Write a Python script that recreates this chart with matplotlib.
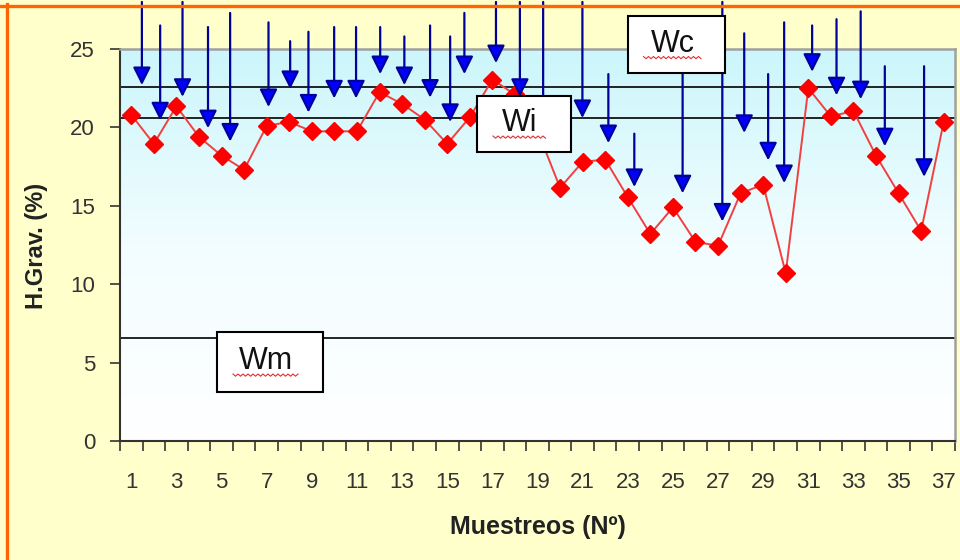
import numpy as np
import matplotlib.pyplot as plt
from matplotlib.colors import LinearSegmentedColormap
from matplotlib.patches import Rectangle
from matplotlib.lines import Line2D

# Datos: humedad gravimétrica por muestreo
muestreos = np.arange(1, 38)
humedad = [20.8, 18.95, 21.35, 19.4, 18.2, 17.3, 20.1, 20.35, 19.75, 19.75,
           19.75, 22.25, 21.5, 20.5, 18.95, 20.65, 23.05, 22.1, 19.8, 16.15,
           17.8, 17.95, 15.55, 13.2, 14.9, 12.7, 12.45, 15.8, 16.35, 10.7,
           22.5, 20.7, 21.05, 18.2, 15.8, 13.4, 20.35]

# Umbrales
wc = 22.6
wi = 20.6
wm = 6.6

# Flechas (posición x, inicio y fin en % de humedad)
flecha_x = [1.47, 2.28, 3.27, 4.40, 5.38, 7.08, 8.04, 8.85, 9.99, 10.96,
            12.03, 13.10, 14.24, 15.13, 15.76, 17.16, 18.22, 19.25, 20.99, 22.14,
            23.29, 25.43, 27.19, 28.16, 29.22, 29.93, 31.17, 32.25, 33.32, 34.39,
            36.13]
flecha_ini = [28.0, 26.5, 28.0, 26.4, 27.3, 26.7, 25.5, 26.1, 26.4, 26.4,
              26.4, 25.8, 26.5, 25.8, 27.3, 28.0, 28.0, 28.0, 28.0, 23.4,
              19.6, 25.3, 28.0, 26.0, 23.4, 26.7, 26.5, 26.9, 27.4, 23.9,
              23.9]
flecha_fin = [22.7, 20.45, 21.95, 19.95, 19.1, 21.3, 22.45, 20.95, 21.85, 21.85,
              23.4, 22.7, 21.9, 20.35, 23.4, 24.1, 21.95, 19.8, 20.6, 19.0,
              16.2, 15.8, 14.0, 19.65, 17.9, 16.45, 23.55, 22.05, 21.8, 18.8,
              16.85]

fondo = '#FFFFCC'
fig = plt.figure(figsize=(9.6, 5.6), dpi=100, facecolor=fondo)
ax = fig.add_axes([120 / 960, 1 - 441 / 560, 835 / 960, 392 / 560])

# Fondo degradado del área de trazado
cmap = LinearSegmentedColormap.from_list('fondo', ['#FFFFFF', '#F2FDFF', '#CBF6FB'])
ax.imshow(np.linspace(0, 1, 256).reshape(-1, 1), extent=[0.5, 37.5, 0, 25],
          aspect='auto', cmap=cmap, origin='lower', zorder=0)

# Líneas de umbral
for v in (wc, wi, wm):
    ax.axhline(v, color='black', lw=1.2, zorder=2)

# Serie
ax.plot(muestreos, humedad, color='#F04040', lw=1.4, marker='D', markersize=9,
        markerfacecolor='#FF0000', markeredgecolor='#FF0000', zorder=3)

# Flechas azules
for x, y0, y1 in zip(flecha_x, flecha_ini, flecha_fin):
    ax.annotate('', xy=(x, y1), xytext=(x, y0), annotation_clip=False, zorder=4,
                arrowprops=dict(arrowstyle='-|>,head_length=0.6,head_width=0.3',
                                mutation_scale=18, fc='#0000FF', ec='#00009A',
                                lw=1.6, shrinkA=0, shrinkB=0))

ax.set_xlim(0.5, 37.5)
ax.set_ylim(0, 25)
ax.set_yticks([0, 5, 10, 15, 20, 25])
ax.set_xticks(np.arange(0.5, 38, 1))
ax.set_xticklabels([])
ax.set_xticks(np.arange(1, 38, 2), minor=True)
ax.set_xticklabels([str(i) for i in range(1, 38, 2)], minor=True)
ax.tick_params(axis='y', direction='out', length=7, width=1.2, color='#333333',
               labelsize=16, pad=11, labelcolor='#333333')
ax.tick_params(axis='x', which='major', direction='out', length=7, width=1.2,
               color='#333333')
ax.tick_params(axis='x', which='minor', length=0, pad=22, labelsize=16,
               labelcolor='#333333')
for lab in ax.get_xticklabels(minor=True) + ax.get_yticklabels():
    lab.set_family(['Liberation Sans', 'DejaVu Sans'])

for s in ('left', 'bottom'):
    ax.spines[s].set_color('#333333')
    ax.spines[s].set_linewidth(1.5)
for s in ('top', 'right'):
    ax.spines[s].set_color('#A0A0A0')
    ax.spines[s].set_linewidth(1.8)

fig.text(37 / 960, 1 - 246 / 560, 'H.Grav. (%)', rotation=90, fontsize=17,
         fontweight='bold', ha='center', va='center', color='#222222',
         family=['Liberation Sans', 'DejaVu Sans'])
fig.text(538 / 960, 1 - 527 / 560, 'Muestreos (Nº)', fontsize=18,
         fontweight='bold', ha='center', va='center', color='#222222',
         family=['Liberation Sans', 'DejaVu Sans'])

# Cuadros de texto (con subrayado ondulado del corrector)
cuadros = [('Wc', 628, 16, 97, 57), ('Wi', 477, 96, 94, 56), ('Wm', 217, 332, 106, 60)]
for txt, x, y, w, h in cuadros:
    fig.add_artist(Rectangle((x / 960, 1 - (y + h) / 560), w / 960, h / 560,
                             transform=fig.transFigure, fc='white', ec='black',
                             lw=1.5, zorder=6))
    cx = x + w / 2 - 4
    cy = y + h / 2 - 1
    t = fig.text(cx / 960, 1 - cy / 560, txt, fontsize=22,
                 ha='center', va='center', color='#111111', zorder=7,
                 family=['Liberation Sans', 'DejaVu Sans'])
    ancho = 27 if txt == 'Wi' else 29 if txt == 'Wc' else 33
    ondas = np.arange(cx - ancho, cx + ancho + 0.1, 2.5)
    picos = np.where(np.arange(len(ondas)) % 2 == 0, 0, 2.2)
    fig.add_artist(Line2D(ondas / 960, 1 - (cy + 13 + picos) / 560,
                          transform=fig.transFigure, color='#E03030', lw=0.8,
                          zorder=7))

# Borde naranja
fig.add_artist(Line2D([0, 1], [1 - 5.5 / 560] * 2, transform=fig.transFigure,
                      color='#FF6600', lw=2.4, zorder=8))
fig.add_artist(Line2D([6.5 / 960] * 2, [0, 1 - 4 / 560], transform=fig.transFigure,
                      color='#FF6600', lw=2.4, zorder=8))

fig.savefig('out.png', dpi=100, facecolor=fondo)
